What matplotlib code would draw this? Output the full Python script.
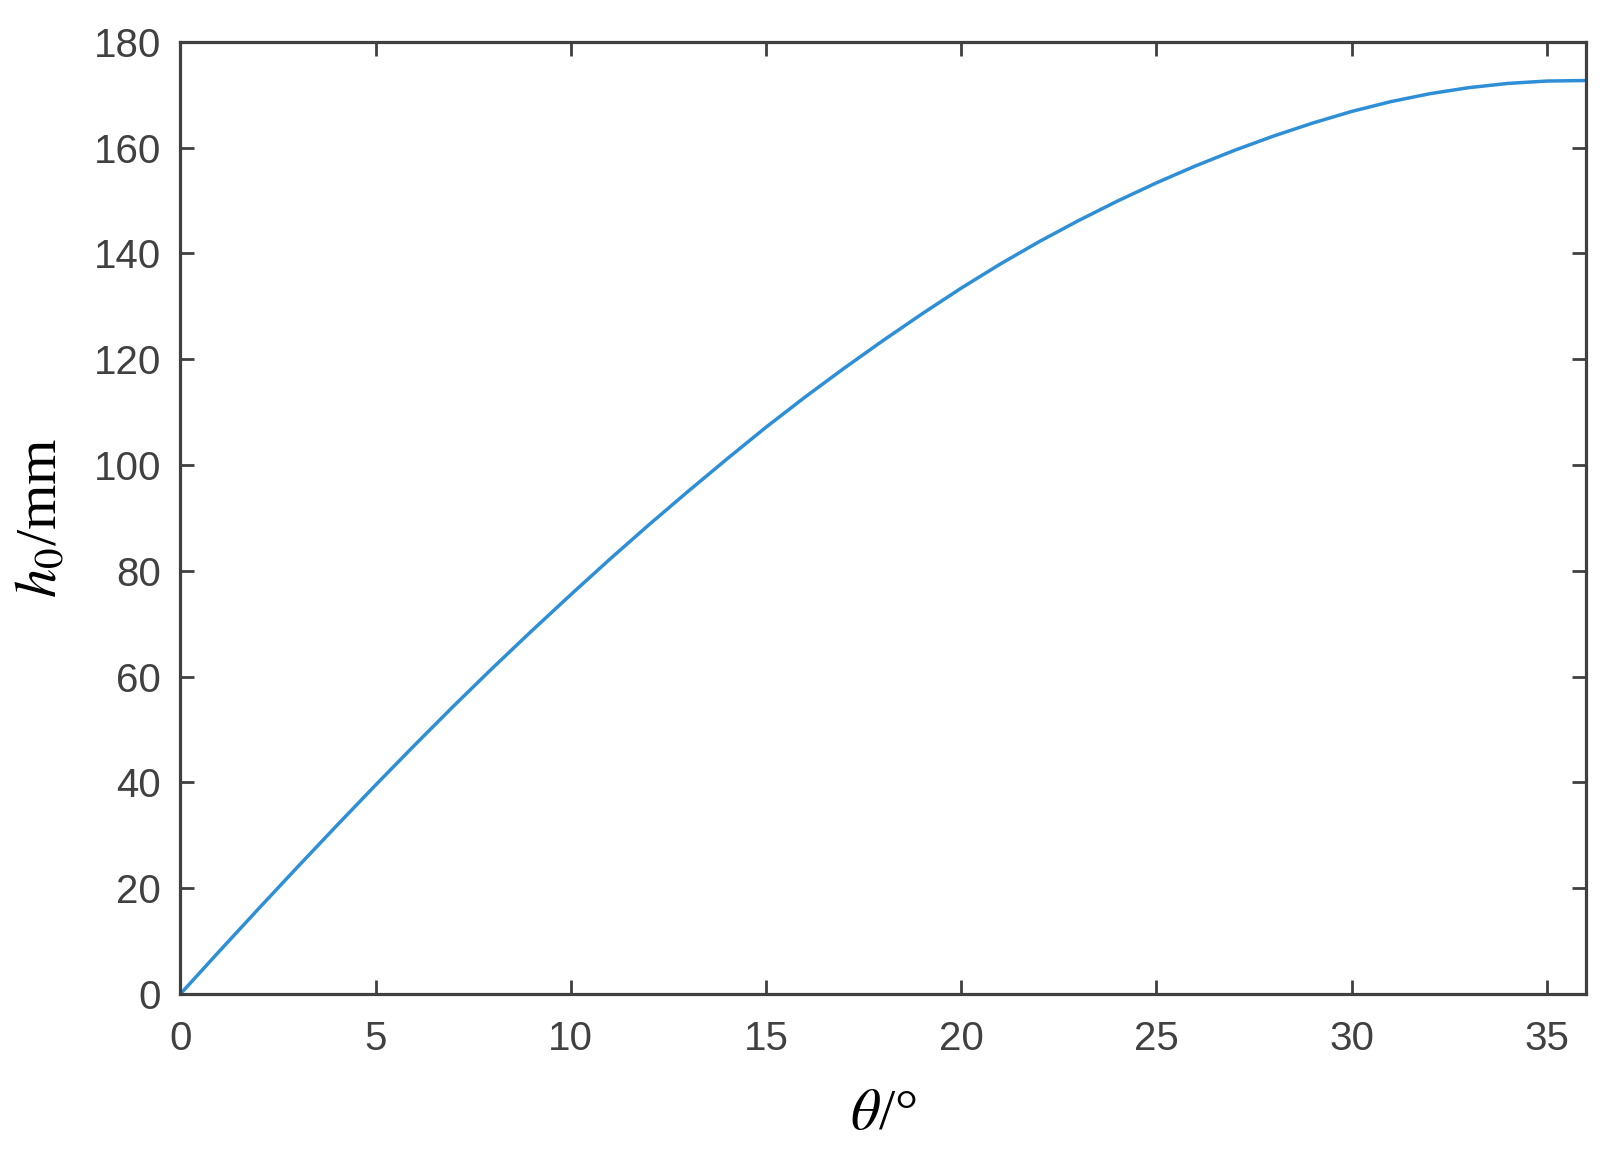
import matplotlib
matplotlib.use("Agg")
import matplotlib.pyplot as plt

# values, one per degree
theta = list(range(0, 37))
h0 = [0, 8.1, 16.1, 24.0, 31.8, 39.5, 47.05, 54.45, 61.65, 68.65, 75.5,
      82.2, 88.7, 95.0, 101.15, 107.15, 112.85, 118.3, 123.55, 128.6, 133.45,
      138.0, 142.25, 146.2, 149.9, 153.35, 156.55, 159.5, 162.2, 164.65, 166.85,
      168.7, 170.2, 171.35, 172.15, 172.6, 172.7]

x_ticks = [0, 5, 10, 15, 20, 25, 30, 35]
y_ticks = [0, 20, 40, 60, 80, 100, 120, 140, 160, 180]

plt.rcParams['mathtext.fontset'] = 'stix'
axis_grey = '#404040'

fig = plt.figure(figsize=(16.1, 11.64), dpi=100)
ax = fig.add_axes([0.112, 0.146, 0.873, 0.818])

ax.plot(theta, h0, color='#2f8fd6', linewidth=2.5)

ax.set_xlim(0, 36)
ax.set_ylim(0, 180)
ax.set_xticks(x_ticks)
ax.set_yticks(y_ticks)

for s in ax.spines.values():
  s.set_color(axis_grey)
  s.set_linewidth(2.3)

ax.tick_params(direction='in', length=10, width=2, colors=axis_grey,
               top=True, right=True, labelsize=29)
ax.tick_params(axis='x', pad=19)
ax.tick_params(axis='y', pad=14)
for lab in ax.get_xticklabels() + ax.get_yticklabels():
  lab.set_family('Liberation Sans')
  lab.set_color(axis_grey)

ax.set_xlabel(r'$\theta$/°', fontsize=42, family='Liberation Serif', labelpad=22)
ax.set_ylabel(r'$h_0$/mm', fontsize=42, family='Liberation Serif', labelpad=18)

fig.savefig('out.png', dpi=100, facecolor='white')
